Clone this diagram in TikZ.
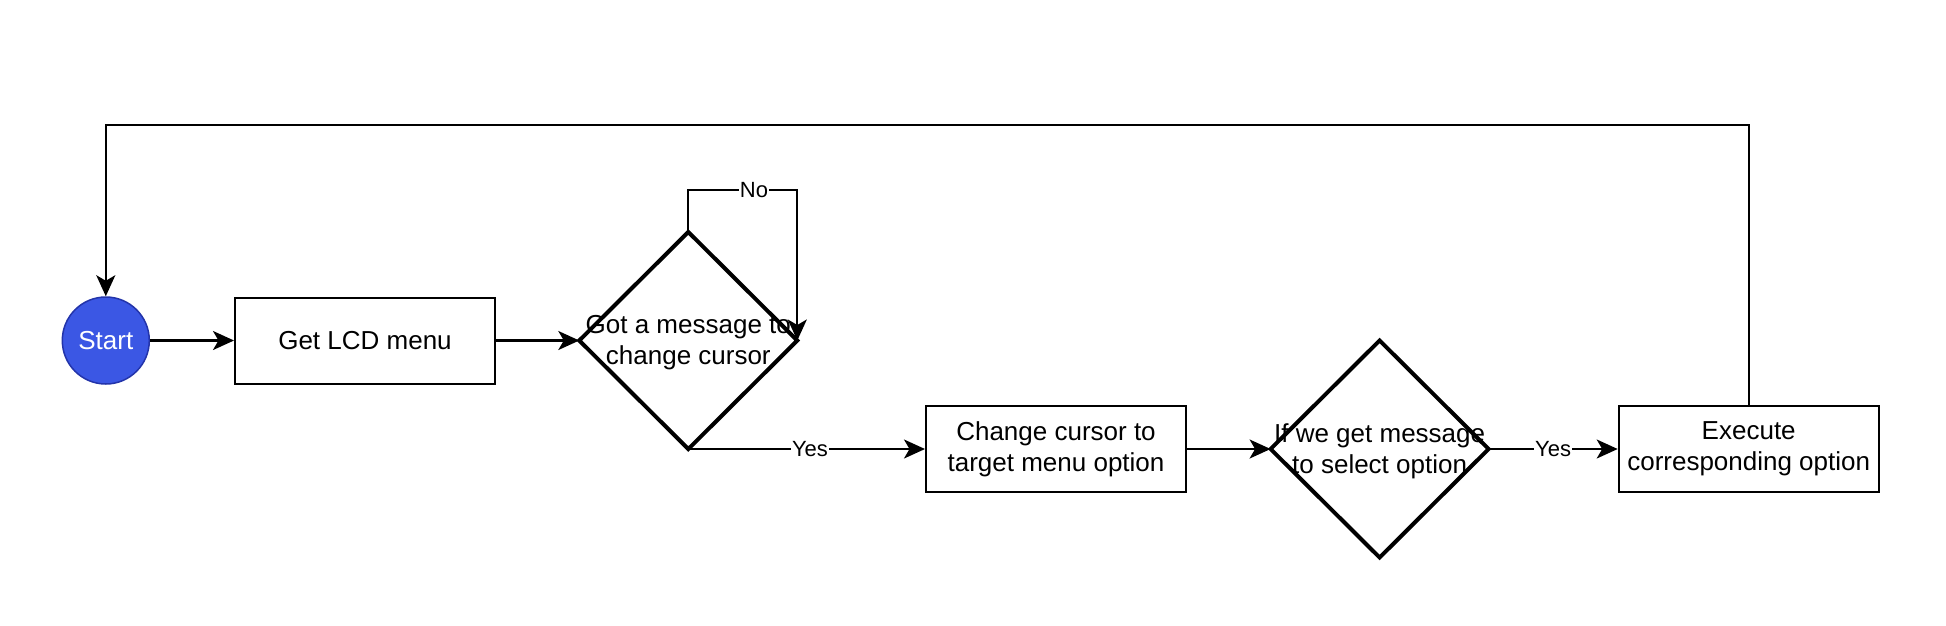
\documentclass[tikz,border=0pt]{standalone}
\usepackage{fontspec}
\setmainfont{Liberation Sans}
\usetikzlibrary{shapes.geometric,arrows.meta}
\definecolor{startblue}{RGB}{59,87,228}
\definecolor{startedge}{RGB}{35,52,170}
\begin{document}
\begin{tikzpicture}[x=1pt,y=-1pt,
  mainfont/.style={font=\fontsize{26}{31}\selectfont},
  startnode/.style={circle,draw=startedge,line width=1.5pt,fill=startblue,text=white,minimum size=87pt,inner sep=0pt,mainfont},
  procbox/.style={rectangle,draw,line width=2pt,fill=white,minimum width=260pt,minimum height=86pt,inner sep=0pt,align=center,mainfont},
  decision/.style={diamond,draw,line width=4pt,fill=white,minimum width=218pt,minimum height=217pt,inner sep=0pt,outer sep=0pt},
  dtext/.style={align=center,inner sep=0pt,mainfont,yshift=-2pt},
  conn/.style={line width=2.2pt,-{Stealth[length=21pt,width=19pt,inset=5.5pt]}},
  edgelbl/.style={fill=white,inner sep=1pt,font=\fontsize{22}{26}\selectfont}]
\useasboundingbox (0,0) rectangle (1946,625);

% nodes
\node[startnode] (start) at (105.8,340.5) {Start};
\node[procbox] (box1) at (365,340.5) {Get LCD menu};
\node[decision] (d1) at (688.3,340.5) {};
\node[dtext] (d1t) at (688.3,340.5) {Got a message to\\change cursor};
\node[procbox] (box2) at (1056,449) {Change cursor to\\target menu option};
\node[decision] (d2) at (1379.6,449) {};
\node[dtext] (d2t) at (1379.6,449) {If we get message\\to select option};
\node[procbox] (box3) at (1748.7,449) {Execute\\corresponding option};

\coordinate (toprow) at (0,125);
\coordinate (norow) at (0,190);

% connectors
\draw[conn] (start) -- (box1);
\draw[conn] (box1) -- (d1.west);
\draw[conn] (d1.north) -- (d1.north |- norow) -| (d1.east);
\node[edgelbl] (nolbl) at (754,190) {No};
\draw[conn] (d1.south) -- (d1.south -| box2.west);
\node[edgelbl] (yes1) at (810,449) {Yes};
\draw[conn] (box2) -- (d2.west);
\draw[conn] (d2.east) -- node[edgelbl] (yes2) {Yes} (box3.west);
\draw[conn] (box3.north) -- (box3.north |- toprow) -| (start.north);
\end{tikzpicture}
\end{document}
